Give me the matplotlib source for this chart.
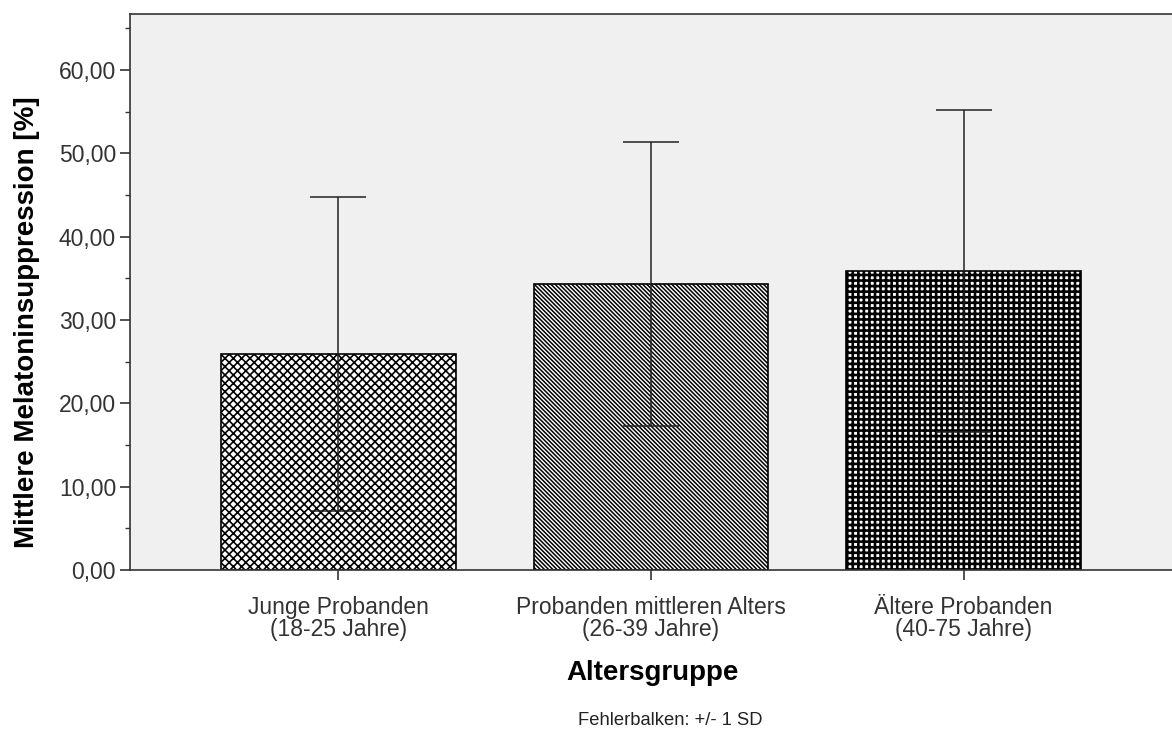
import matplotlib.pyplot as plt
from matplotlib.ticker import MultipleLocator, FuncFormatter

plt.rcParams['font.family'] = ['Liberation Sans', 'DejaVu Sans']
plt.rcParams['hatch.linewidth'] = 1.0

groups = ['Junge Probanden\n(18-25 Jahre)',
          'Probanden mittleren Alters\n(26-39 Jahre)',
          'Ältere Probanden\n(40-75 Jahre)']
means = [25.9, 34.3, 35.9]
sds = [18.8, 17.0, 19.3]
hatches = ['xxxx', '\\' * 8, '+++']
hatch_lw = [1.2, 1.1, 1.9]

fig = plt.figure(figsize=(11.72, 7.29), dpi=100)
ax = fig.add_axes([0.1109, 0.2181, 0.8891, 0.7627])
ax.set_facecolor('#f0f0f0')

x = range(len(groups))
bars = ax.bar(x, means, width=0.75, color='white', edgecolor='black',
              linewidth=1.2, zorder=2)
for b, h, lw in zip(bars, hatches, hatch_lw):
    b.set_hatch(h)
    b.set_hatch_linewidth(lw)

ax.errorbar(x, means, yerr=sds, fmt='none', ecolor='#222222',
            elinewidth=1.1, capsize=20, capthick=1.1, zorder=3)

ax.set_xlim(-0.667, 2.667)
ax.set_ylim(0, 66.7)
ax.yaxis.set_major_locator(MultipleLocator(10))
ax.yaxis.set_minor_locator(MultipleLocator(5))
ax.yaxis.set_major_formatter(FuncFormatter(lambda v, p: f'{v:.2f}'.replace('.', ',')))
ax.set_xticks(list(x))
ax.set_xticklabels(groups, fontsize=16.5, color='#333333', linespacing=0.92)
ax.tick_params(axis='y', which='major', length=7, width=1.2, colors='#333333',
               labelsize=16.5, pad=3)
ax.tick_params(axis='y', which='minor', length=3.5, width=1.0, colors='#333333')
ax.tick_params(axis='x', length=7, width=1.2, colors='#333333', pad=12)

for s in ['left', 'top', 'bottom']:
    ax.spines[s].set_color('#333333')
    ax.spines[s].set_linewidth(1.2)
ax.spines['right'].set_visible(False)

ax.set_ylabel('Mittlere Melatoninsuppression [%]', fontsize=20, fontweight='bold',
              va='center')
ax.yaxis.set_label_coords(-0.0985, 0.446)
ax.set_xlabel('Altersgruppe', fontsize=20, fontweight='bold', va='center')
ax.xaxis.set_label_coords(0.501, -0.186)
fig.text(0.572, 0.011, 'Fehlerbalken: +/- 1 SD', ha='center', va='center',
         fontsize=13.2, color='#222222')

fig.savefig('out.png', dpi=100, facecolor='white')
